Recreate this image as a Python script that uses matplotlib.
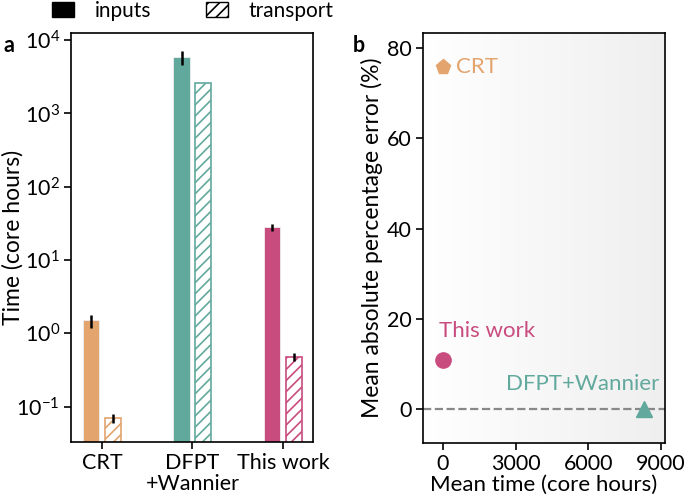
import numpy as np
import matplotlib
matplotlib.use("Agg")
import matplotlib.pyplot as plt
from matplotlib.patches import Patch

plt.rcParams['font.family'] = ['Lato', 'DejaVu Sans']
plt.rcParams['font.size'] = 15.5
plt.rcParams['mathtext.fontset'] = 'custom'
plt.rcParams['mathtext.rm'] = 'Lato'
plt.rcParams['mathtext.it'] = 'Lato:italic'
plt.rcParams['mathtext.bf'] = 'Lato:bold'
plt.rcParams['hatch.linewidth'] = 1.2

methods = ["CRT", "DFPT\n+Wannier", "This work"]
colors = ["#E3A46E", "#62A99D", "#C94C7F"]

# panel a: core hours
inputs = [1.5, 5800, 28]
inputs_err = [0.3, 1200, 3]
transport = [0.07, 2600, 0.48]
transport_err = [0.01, 0, 0.06]

# panel b: mean time vs error
mean_time = [0, 8300, 0]
mape = [75.8, 0, 10.9]
markers = ["p", "^", "o"]
point_labels = ["CRT", "DFPT+Wannier", "This work"]

fig = plt.figure(figsize=(6.85, 4.96), dpi=100)
ax1 = fig.add_axes([71/685, 1-442/496, 242/685, 409/496])
ax2 = fig.add_axes([423/685, 1-443/496, 242/685, 410/496])

x = np.arange(len(methods))
w = 0.18
off = 0.12
for i in range(len(methods)):
    ax1.bar(x[i] - off, inputs[i], w, color=colors[i], edgecolor="#eeeeee", lw=0.6)
    ax1.errorbar(x[i] - off, inputs[i], yerr=inputs_err[i], color="k", lw=1.8, capsize=0)
    ax1.bar(x[i] + off, transport[i], w, facecolor="white", edgecolor=colors[i],
            hatch="///", lw=1.2)
    ax1.errorbar(x[i] + off, transport[i], yerr=transport_err[i], color="k", lw=1.8, capsize=0)

ax1.set_yscale("log")
ax1.set_ylim(0.033, 12500)
ax1.set_xlim(-0.34, 2.33)
ax1.set_xticks(x)
ax1.set_xticklabels(methods, linespacing=1.05)
ax1.set_yticks([0.1, 1, 10, 100, 1000, 10000])
ax1.yaxis.set_minor_locator(matplotlib.ticker.NullLocator())
ax1.set_ylabel("Time (core hours)", fontsize=16.5)
ax1.yaxis.set_label_coords(-0.195, 0.5)
ax1.tick_params(direction="out", length=5, width=1.2, pad=3)
for s in ax1.spines.values():
    s.set_linewidth(1.2)

handles = [Patch(facecolor="k", edgecolor="k"),
           Patch(facecolor="white", edgecolor="k", hatch="///")]
fig.legend(handles, ["inputs", "transport"], ncol=2, frameon=False,
           loc="center", bbox_to_anchor=(193/685, 1-11/496), fontsize=15,
           handlelength=1.05, handleheight=0.75, handletextpad=1.0, columnspacing=2.6)

# panel b
grad = np.linspace(0, 1, 256).reshape(1, -1)
ax2.imshow(grad, extent=[-825, 9170, -7.5, 83.3], aspect="auto",
           cmap=matplotlib.colors.LinearSegmentedColormap.from_list("g", ["#ffffff", "#efefef"]),
           zorder=0)
ax2.axhline(0, color="#888888", ls="--", lw=1.6, zorder=1)
for i in range(len(methods)):
    ax2.plot(mean_time[i], mape[i], marker=markers[i], color=colors[i], ms=11, ls="none", zorder=3)
ax2.text(550, mape[0], point_labels[0], color=colors[0], va="center", ha="left", fontsize=16)
ax2.text(-180, mape[2] + 6.5, point_labels[2], color=colors[2], va="center", ha="left", fontsize=16)
ax2.text(8950, 5.5, point_labels[1], color=colors[1], va="center", ha="right", fontsize=16)
ax2.set_xlim(-825, 9170)
ax2.set_ylim(-7.5, 83.3)
ax2.set_xticks([0, 3000, 6000, 9000])
ax2.set_yticks([0, 20, 40, 60, 80])
ax2.set_xlabel("Mean time (core hours)", fontsize=16)
ax2.xaxis.set_label_coords(0.5, -0.078)
ax2.set_ylabel("Mean absolute percentage error (%)", fontsize=16.5)
ax2.yaxis.set_label_coords(-0.165, 0.5)
ax2.tick_params(direction="out", length=5, width=1.2, pad=3)
for s in ax2.spines.values():
    s.set_linewidth(1.2)

fig.text(3/685, 1-45/496, "a", fontweight="bold", va="center")
fig.text(353/685, 1-45/496, "b", fontweight="bold", va="center")

fig.savefig("out.png", dpi=100)
